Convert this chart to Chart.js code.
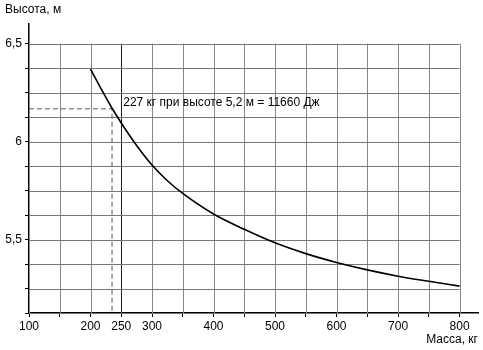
<!DOCTYPE html>
<html lang="ru">
  <head>
    <meta charset="UTF-8" />
    <title>Высота от массы</title>
    <script src="https://cdn.jsdelivr.net/npm/chart.js"></script>
    <style>
      html, body { margin: 0; padding: 0; background: #fff; }
      #wrap { width: 483px; height: 350px; }
    </style>
  </head>
  <body>
    <div id="wrap"><canvas id="chart"></canvas></div>

    <script>
      // curve
      const massValues = [200, 225, 235, 250, 275, 300, 325, 350, 400, 450, 500, 550, 600, 650, 700, 750, 800];
      const heightValues = [6.37, 6.225, 6.17, 6.095, 5.98, 5.88, 5.8, 5.735, 5.63, 5.552, 5.483, 5.428, 5.383, 5.345, 5.313, 5.287, 5.262];

      // dashed helper lines to the marked point
      const markMass = [100, 235, 235];
      const markHeight = [6.167, 6.167, 5.125];

      const xTicks = [100, 150, 200, 250, 300, 350, 400, 450, 500, 550, 600, 650, 700, 750, 800];
      const xLabels = [100, 200, 250, 300, 400, 500, 600, 700, 800];
      const yTicks = [5.125, 5.25, 5.375, 5.5, 5.625, 5.75, 5.875, 6, 6.125, 6.25, 6.375, 6.5];
      const yLabels = [5.5, 6, 6.5];

      const FONT = "'Liberation Sans', Arial, sans-serif";

      // grid only up to 6.5 and 800, plus texts
      const gridAndText = {
        id: "gridAndText",
        beforeDatasetsDraw(chart) {
          const c = chart.ctx;
          const x = chart.scales.x, y = chart.scales.y;
          const x0 = x.getPixelForValue(100), x1 = x.getPixelForValue(800);
          const y0 = y.getPixelForValue(5.125), y1 = y.getPixelForValue(6.5);
          c.save();
          c.lineWidth = 1;
          xTicks.forEach((v) => {
            const px = Math.round(x.getPixelForValue(v)) + 0.5;
            c.strokeStyle = v === 250 ? "#222" : "#888";
            c.beginPath();
            c.moveTo(px, y0);
            c.lineTo(px, y1);
            c.stroke();
          });
          yTicks.forEach((v) => {
            const py = Math.round(y.getPixelForValue(v)) + 0.5;
            c.strokeStyle = "#777";
            c.beginPath();
            c.moveTo(x0, py);
            c.lineTo(x1, py);
            c.stroke();
          });
          c.restore();
        },
        afterDraw(chart) {
          const c = chart.ctx;
          const x = chart.scales.x, y = chart.scales.y;
          c.save();
          c.fillStyle = "#000";
          c.font = "12px " + FONT;
          c.textBaseline = "middle";
          c.textAlign = "left";
          c.fillText("Высота, м", 5, 10);
          c.fillText("227 кг при высоте 5,2 м = 11660 Дж", x.getPixelForValue(250) + 2, y.getPixelForValue(6.2));
          c.textAlign = "right";
          c.fillText("Масса, кг", 478, 340);
          c.restore();
        },
      };

      new Chart(document.getElementById("chart"), {
        type: "scatter",
        data: {
          datasets: [
            {
              data: massValues.map((m, i) => ({ x: m, y: heightValues[i] })),
              showLine: true,
              borderColor: "#000",
              borderWidth: 1.6,
              pointRadius: 0,
              cubicInterpolationMode: "monotone",
            },
            {
              data: markMass.map((m, i) => ({ x: m, y: markHeight[i] })),
              showLine: true,
              borderColor: "#555",
              borderWidth: 1,
              borderDash: [5, 3],
              pointRadius: 0,
            },
          ],
        },
        plugins: [gridAndText],
        options: {
          responsive: true,
          maintainAspectRatio: false,
          animation: false,
          layout: { padding: { top: 24, right: 5, left: 0, bottom: 0 } },
          plugins: { legend: { display: false }, tooltip: { enabled: false } },
          scales: {
            x: {
              type: "linear",
              min: 100,
              max: 830,
              afterBuildTicks(s) {
                s.ticks = xTicks.map((v) => ({ value: v }));
              },
              afterFit(s) {
                s.height = 37;
              },
              grid: { drawOnChartArea: false, color: "#000", tickLength: 4 },
              border: { color: "#000", width: 1.5 },
              ticks: {
                color: "#000",
                padding: 2,
                maxRotation: 0,
                autoSkip: false,
                font: { family: FONT, size: 12 },
                callback: (v) => (xLabels.includes(v) ? String(v) : ""),
              },
            },
            y: {
              type: "linear",
              min: 5.125,
              max: 6.6,
              afterBuildTicks(s) {
                s.ticks = yTicks.map((v) => ({ value: v }));
              },
              afterFit(s) {
                s.width = 29;
              },
              grid: { drawOnChartArea: false, color: "#000", tickLength: 4 },
              border: { color: "#000", width: 1.5 },
              ticks: {
                color: "#000",
                padding: 3,
                autoSkip: false,
                font: { family: FONT, size: 12 },
                callback: (v) => (yLabels.includes(v) ? String(v).replace(".", ",") : ""),
              },
            },
          },
        },
      });
    </script>
  </body>
</html>
